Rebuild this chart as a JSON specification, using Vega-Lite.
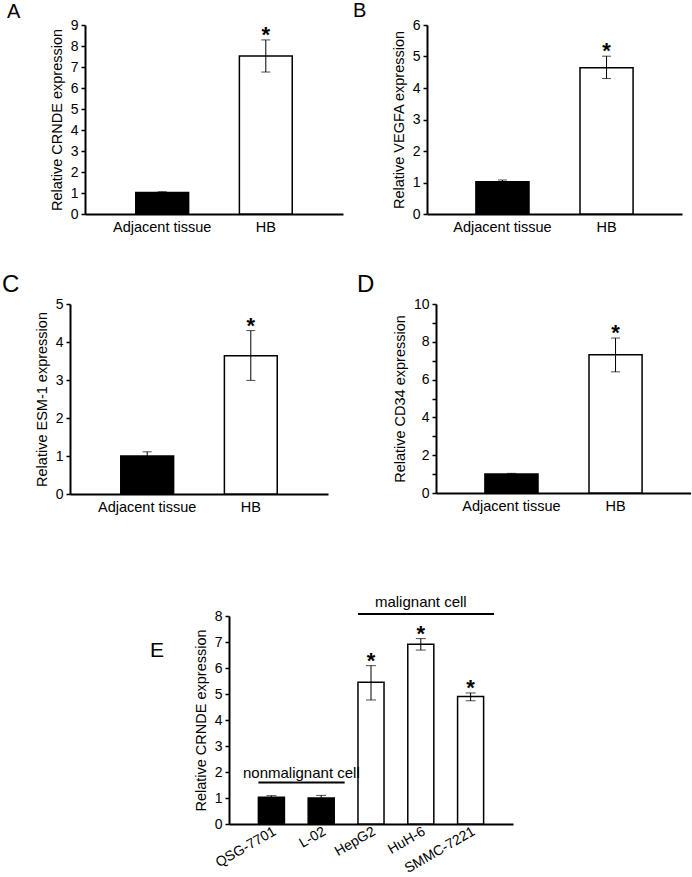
{
  "$schema": "https://vega.github.io/schema/vega-lite/v6.json",
  "padding": {"left": 1, "top": 1, "right": 0, "bottom": 0},
  "background": "white",
  "config": {
    "view": {"stroke": null},
    "font": "Liberation Sans",
    "axis": {"domainColor": "black", "domainWidth": 2, "tickColor": "black", "tickWidth": 1.5, "tickSize": 4, "labelColor": "black", "titleColor": "black", "labelFontSize": 14, "titleFontSize": 14.5, "titleFontWeight": "normal", "grid": false, "labelPadding": 3, "titlePadding": 6, "labelOverlap": false},
    "title": {"fontSize": 20, "fontWeight": "normal", "anchor": "start", "frame": "group", "offset": 0, "baseline": "alphabetic", "color": "black"}
  },
  "spacing": 0,
  "vconcat": [
    {
      "spacing": 0,
      "hconcat": [
        {"width": 6, "height": 1, "data": {"values": []}, "mark": "point"},
        {
          "width": 258, "height": 189,
          "title": {"text": "A", "dx": -78, "dy": 8},
          "data": {"values": [
            {"group": "Adjacent tissue", "type": "normal", "mean": 1.02, "lo": 0.98, "hi": 1.06, "sig": ""},
            {"group": "HB", "type": "tumor", "mean": 7.52, "lo": 6.76, "hi": 8.29, "sig": "*"}
          ]},
          "encoding": {"x": {"field": "group", "type": "nominal", "sort": null, "title": null, "scale": {"domain": ["Adjacent tissue", "HB"], "paddingInner": 0.49, "paddingOuter": 0.49}, "axis": {"labelAngle": 0, "ticks": false, "labelPadding": 6, "labelFontSize": 14.5}}},
          "layer": [
            {"mark": {"type": "bar", "stroke": "black", "strokeWidth": 1.5}, "encoding": {"y": {"field": "mean", "type": "quantitative", "title": "Relative CRNDE expression", "scale": {"domain": [0, 9], "nice": false}, "axis": {"values": [0,1,2,3,4,5,6,7,8,9]}}, "color": {"field": "type", "type": "nominal", "scale": {"domain": ["normal", "tumor"], "range": ["#000000", "#ffffff"]}, "legend": null}}},
            {"mark": {"type": "rule", "strokeWidth": 1, "color": "black"}, "encoding": {"y": {"field": "lo", "type": "quantitative", "title": "Relative CRNDE expression", "axis": {"values": [0,1,2,3,4,5,6,7,8,9]}}, "y2": {"field": "hi"}}},
            {"mark": {"type": "tick", "size": 9, "thickness": 1, "color": "black"}, "encoding": {"y": {"field": "hi", "type": "quantitative", "title": "Relative CRNDE expression", "axis": {"values": [0,1,2,3,4,5,6,7,8,9]}}}},
            {"mark": {"type": "tick", "size": 9, "thickness": 1, "color": "black"}, "encoding": {"y": {"field": "lo", "type": "quantitative", "title": "Relative CRNDE expression", "axis": {"values": [0,1,2,3,4,5,6,7,8,9]}}}},
            {"mark": {"type": "text", "fontSize": 22, "fontWeight": "bold", "baseline": "alphabetic", "dy": 2, "color": "black"}, "encoding": {"y": {"field": "hi", "type": "quantitative", "title": "Relative CRNDE expression", "axis": {"values": [0,1,2,3,4,5,6,7,8,9]}}, "text": {"field": "sig"}}}
          ]
        },
        {"width": 10, "height": 1, "data": {"values": []}, "mark": "point"},
        {
          "width": 255, "height": 189,
          "title": {"text": "B", "dx": -74, "dy": 7},
          "data": {"values": [
            {"group": "Adjacent tissue", "type": "normal", "mean": 1.02, "lo": 0.96, "hi": 1.08, "sig": ""},
            {"group": "HB", "type": "tumor", "mean": 4.64, "lo": 4.3, "hi": 5.01, "sig": "*"}
          ]},
          "encoding": {"x": {"field": "group", "type": "nominal", "sort": null, "title": null, "scale": {"domain": ["Adjacent tissue", "HB"], "paddingInner": 0.49, "paddingOuter": 0.47}, "axis": {"labelAngle": 0, "ticks": false, "labelPadding": 6, "labelFontSize": 14.5}}},
          "layer": [
            {"mark": {"type": "bar", "stroke": "black", "strokeWidth": 1.5}, "encoding": {"y": {"field": "mean", "type": "quantitative", "title": "Relative VEGFA expression", "scale": {"domain": [0, 6], "nice": false}, "axis": {"values": [0,1,2,3,4,5,6]}}, "color": {"field": "type", "type": "nominal", "scale": {"domain": ["normal", "tumor"], "range": ["#000000", "#ffffff"]}, "legend": null}}},
            {"mark": {"type": "rule", "strokeWidth": 1, "color": "black"}, "encoding": {"y": {"field": "lo", "type": "quantitative", "title": "Relative VEGFA expression", "axis": {"values": [0,1,2,3,4,5,6]}}, "y2": {"field": "hi"}}},
            {"mark": {"type": "tick", "size": 9, "thickness": 1, "color": "black"}, "encoding": {"y": {"field": "hi", "type": "quantitative", "title": "Relative VEGFA expression", "axis": {"values": [0,1,2,3,4,5,6]}}}},
            {"mark": {"type": "tick", "size": 9, "thickness": 1, "color": "black"}, "encoding": {"y": {"field": "lo", "type": "quantitative", "title": "Relative VEGFA expression", "axis": {"values": [0,1,2,3,4,5,6]}}}},
            {"mark": {"type": "text", "fontSize": 22, "fontWeight": "bold", "baseline": "alphabetic", "dy": 2, "color": "black"}, "encoding": {"y": {"field": "hi", "type": "quantitative", "title": "Relative VEGFA expression", "axis": {"values": [0,1,2,3,4,5,6]}}, "text": {"field": "sig"}}}
          ]
        }
      ]
    },
    {"width": 1, "height": 39, "data": {"values": []}, "mark": "point"},
    {
      "spacing": 0,
      "hconcat": [
        {"width": 1, "height": 1, "data": {"values": []}, "mark": "point"},
        {
          "width": 258, "height": 190,
          "title": {"text": "C", "dx": -68, "dy": 4, "fontSize": 24},
          "data": {"values": [
            {"group": "Adjacent tissue", "type": "normal", "mean": 1.0, "lo": 0.9, "hi": 1.11, "sig": ""},
            {"group": "HB", "type": "tumor", "mean": 3.64, "lo": 2.99, "hi": 4.3, "sig": "*"}
          ]},
          "encoding": {"x": {"field": "group", "type": "nominal", "sort": null, "title": null, "scale": {"domain": ["Adjacent tissue", "HB"], "paddingInner": 0.49, "paddingOuter": 0.49}, "axis": {"labelAngle": 0, "ticks": false, "labelPadding": 6, "labelFontSize": 14.5}}},
          "layer": [
            {"mark": {"type": "bar", "stroke": "black", "strokeWidth": 1.5}, "encoding": {"y": {"field": "mean", "type": "quantitative", "title": "Relative ESM-1 expression", "scale": {"domain": [0, 5], "nice": false}, "axis": {"values": [0,1,2,3,4,5]}}, "color": {"field": "type", "type": "nominal", "scale": {"domain": ["normal", "tumor"], "range": ["#000000", "#ffffff"]}, "legend": null}}},
            {"mark": {"type": "rule", "strokeWidth": 1, "color": "black"}, "encoding": {"y": {"field": "lo", "type": "quantitative", "title": "Relative ESM-1 expression", "axis": {"values": [0,1,2,3,4,5]}}, "y2": {"field": "hi"}}},
            {"mark": {"type": "tick", "size": 9, "thickness": 1, "color": "black"}, "encoding": {"y": {"field": "hi", "type": "quantitative", "title": "Relative ESM-1 expression", "axis": {"values": [0,1,2,3,4,5]}}}},
            {"mark": {"type": "tick", "size": 9, "thickness": 1, "color": "black"}, "encoding": {"y": {"field": "lo", "type": "quantitative", "title": "Relative ESM-1 expression", "axis": {"values": [0,1,2,3,4,5]}}}},
            {"mark": {"type": "text", "fontSize": 22, "fontWeight": "bold", "baseline": "alphabetic", "dy": 2, "color": "black"}, "encoding": {"y": {"field": "hi", "type": "quantitative", "title": "Relative ESM-1 expression", "axis": {"values": [0,1,2,3,4,5]}}, "text": {"field": "sig"}}}
          ]
        },
        {"width": 29, "height": 1, "data": {"values": []}, "mark": "point"},
        {
          "width": 255, "height": 189,
          "title": {"text": "D", "dx": -79, "dy": 4, "fontSize": 24},
          "data": {"values": [
            {"group": "Adjacent tissue", "type": "normal", "mean": 1.0, "lo": 0.97, "hi": 1.04, "sig": ""},
            {"group": "HB", "type": "tumor", "mean": 7.32, "lo": 6.41, "hi": 8.2, "sig": "*"}
          ]},
          "encoding": {"x": {"field": "group", "type": "nominal", "sort": null, "title": null, "scale": {"domain": ["Adjacent tissue", "HB"], "paddingInner": 0.49, "paddingOuter": 0.47}, "axis": {"labelAngle": 0, "ticks": false, "labelPadding": 6, "labelFontSize": 14.5}}},
          "layer": [
            {"mark": {"type": "bar", "stroke": "black", "strokeWidth": 1.5}, "encoding": {"y": {"field": "mean", "type": "quantitative", "title": "Relative CD34 expression", "scale": {"domain": [0, 10], "nice": false}, "axis": {"values": [0,1,2,3,4,5,6,7,8,9,10], "labelExpr": "datum.value % 2 === 0 ? datum.label : ''"}}, "color": {"field": "type", "type": "nominal", "scale": {"domain": ["normal", "tumor"], "range": ["#000000", "#ffffff"]}, "legend": null}}},
            {"mark": {"type": "rule", "strokeWidth": 1, "color": "black"}, "encoding": {"y": {"field": "lo", "type": "quantitative", "title": "Relative CD34 expression", "axis": {"values": [0,1,2,3,4,5,6,7,8,9,10], "labelExpr": "datum.value % 2 === 0 ? datum.label : ''"}}, "y2": {"field": "hi"}}},
            {"mark": {"type": "tick", "size": 9, "thickness": 1, "color": "black"}, "encoding": {"y": {"field": "hi", "type": "quantitative", "title": "Relative CD34 expression", "axis": {"values": [0,1,2,3,4,5,6,7,8,9,10], "labelExpr": "datum.value % 2 === 0 ? datum.label : ''"}}}},
            {"mark": {"type": "tick", "size": 9, "thickness": 1, "color": "black"}, "encoding": {"y": {"field": "lo", "type": "quantitative", "title": "Relative CD34 expression", "axis": {"values": [0,1,2,3,4,5,6,7,8,9,10], "labelExpr": "datum.value % 2 === 0 ? datum.label : ''"}}}},
            {"mark": {"type": "text", "fontSize": 22, "fontWeight": "bold", "baseline": "alphabetic", "dy": 2, "color": "black"}, "encoding": {"y": {"field": "hi", "type": "quantitative", "title": "Relative CD34 expression", "axis": {"values": [0,1,2,3,4,5,6,7,8,9,10], "labelExpr": "datum.value % 2 === 0 ? datum.label : ''"}}, "text": {"field": "sig"}}}
          ]
        }
      ]
    },
    {"width": 1, "height": 80, "data": {"values": []}, "mark": "point"},
    {
      "spacing": 0,
      "hconcat": [
        {"width": 149, "height": 1, "data": {"values": []}, "mark": "point"},
        {
          "width": 284, "height": 208,
          "title": {"text": "E", "dx": -79, "dy": 70, "fontSize": 21},
          "layer": [
            {
              "data": {"values": [
                {"cell": "QSG-7701", "type": "normal", "mean": 1.03, "lo": 0.96, "hi": 1.09, "sig": ""},
                {"cell": "L-02", "type": "normal", "mean": 1.0, "lo": 0.9, "hi": 1.1, "sig": ""},
                {"cell": "HepG2", "type": "tumor", "mean": 5.45, "lo": 4.77, "hi": 6.09, "sig": "*"},
                {"cell": "HuH-6", "type": "tumor", "mean": 6.91, "lo": 6.69, "hi": 7.13, "sig": "*"},
                {"cell": "SMMC-7221", "type": "tumor", "mean": 4.9, "lo": 4.74, "hi": 5.04, "sig": "*"}
              ]},
              "encoding": {"x": {"field": "cell", "type": "nominal", "sort": null, "title": null, "scale": {"domain": ["QSG-7701", "L-02", "HepG2", "HuH-6", "SMMC-7221"], "paddingInner": 0.477, "paddingOuter": 0.59}, "axis": {"labelAngle": -30, "ticks": false, "labelPadding": 0, "labelFontSize": 14}}},
              "layer": [
                {"mark": {"type": "bar", "stroke": "black", "strokeWidth": 1.5}, "encoding": {"y": {"field": "mean", "type": "quantitative", "title": "Relative CRNDE expression", "scale": {"domain": [0, 8], "nice": false}, "axis": {"values": [0,1,2,3,4,5,6,7,8]}}, "color": {"field": "type", "type": "nominal", "scale": {"domain": ["normal", "tumor"], "range": ["#000000", "#ffffff"]}, "legend": null}}},
                {"mark": {"type": "rule", "strokeWidth": 1, "color": "black"}, "encoding": {"y": {"field": "lo", "type": "quantitative", "title": "Relative CRNDE expression", "axis": {"values": [0,1,2,3,4,5,6,7,8]}}, "y2": {"field": "hi"}}},
                {"mark": {"type": "tick", "size": 10, "thickness": 1, "color": "black"}, "encoding": {"y": {"field": "hi", "type": "quantitative", "title": "Relative CRNDE expression", "axis": {"values": [0,1,2,3,4,5,6,7,8]}}}},
                {"mark": {"type": "tick", "size": 10, "thickness": 1, "color": "black"}, "encoding": {"y": {"field": "lo", "type": "quantitative", "title": "Relative CRNDE expression", "axis": {"values": [0,1,2,3,4,5,6,7,8]}}}},
                {"mark": {"type": "text", "fontSize": 22, "fontWeight": "bold", "baseline": "alphabetic", "dy": 2, "color": "black"}, "encoding": {"y": {"field": "hi", "type": "quantitative", "title": "Relative CRNDE expression", "axis": {"values": [0,1,2,3,4,5,6,7,8]}}, "text": {"field": "sig"}}}
              ]
            },
            {
              "data": {"values": [
                {"from": "QSG-7701", "to": "L-02", "y": 1.6},
                {"from": "HepG2", "to": "SMMC-7221", "y": 8.08}
              ]},
              "mark": {"type": "rule", "strokeWidth": 2, "color": "black"},
              "encoding": {
                "x": {"field": "from", "type": "nominal", "title": null, "bandPosition": 0},
                "x2": {"field": "to", "bandPosition": 1.4},
                "y": {"field": "y", "type": "quantitative", "title": "Relative CRNDE expression", "axis": {"values": [0,1,2,3,4,5,6,7,8]}}
              }
            },
            {
              "data": {"values": [{"at": "QSG-7701", "y": 1.97, "label": "nonmalignant cell"}]},
              "mark": {"type": "text", "fontSize": 15, "baseline": "middle", "align": "center", "color": "black"},
              "encoding": {
                "x": {"field": "at", "type": "nominal", "title": null, "bandPosition": 1.65},
                "y": {"field": "y", "type": "quantitative", "title": "Relative CRNDE expression", "axis": {"values": [0,1,2,3,4,5,6,7,8]}},
                "text": {"field": "label"}
              }
            },
            {
              "data": {"values": [{"at": "HuH-6", "y": 8.55, "label": "malignant cell"}]},
              "mark": {"type": "text", "fontSize": 15, "baseline": "middle", "align": "center", "color": "black"},
              "encoding": {
                "x": {"field": "at", "type": "nominal", "title": null, "bandPosition": 0.5},
                "y": {"field": "y", "type": "quantitative", "title": "Relative CRNDE expression", "axis": {"values": [0,1,2,3,4,5,6,7,8]}},
                "text": {"field": "label"}
              }
            }
          ]
        }
      ]
    }
  ]
}
